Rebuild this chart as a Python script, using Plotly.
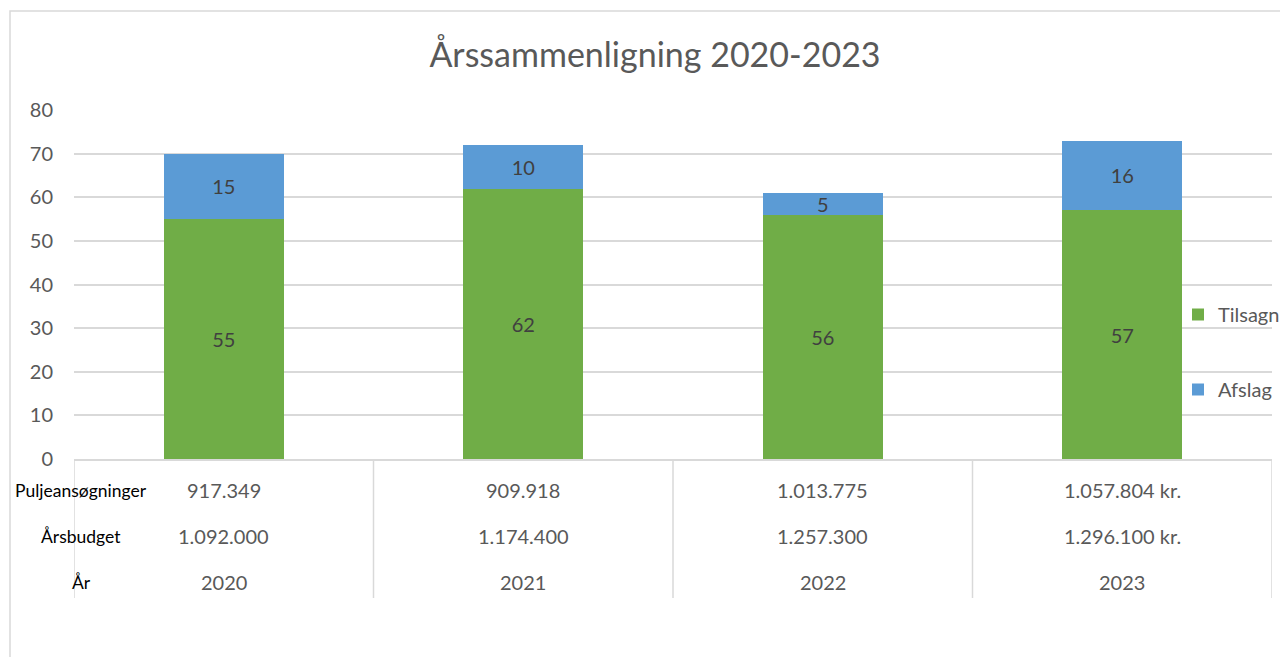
import plotly.graph_objects as go

# Data
years = ['2020', '2021', '2022', '2023']
tilsagn = [55, 62, 56, 57]
afslag = [15, 10, 5, 16]
puljeansoegninger = ['917.349', '909.918', '1.013.775', '1.057.804 kr.']
aarsbudget = ['1.092.000', '1.174.400', '1.257.300', '1.296.100 kr.']
row_labels = ['Puljeansøgninger', 'Årsbudget', 'År']

FONT = 'Lato'
GREY = '#595959'
LINE = '#d9d9d9'

# page is offset by the 8px body margin
OFF = 8
W, H = 1288 - 2 * OFF, 665 - 2 * OFF

# pixel geometry of the plot area in page coords
PLOT_TOP, PLOT_BOTTOM = 110, 459
PLOT_LEFT, PLOT_RIGHT = 74, 1272
PH = PLOT_BOTTOM - PLOT_TOP
PW = PLOT_RIGHT - PLOT_LEFT

def py(p):
    return (PLOT_BOTTOM - p) / PH

def px(p):
    return (p - PLOT_LEFT) / PW

fig = go.Figure()

fig.add_trace(
    go.Bar(
        x = years,
        y = tilsagn,
        name = 'Tilsagn',
        marker = dict(color = '#70ad47', line = dict(width = 0)),
        text = tilsagn,
        textposition = 'inside',
        insidetextanchor = 'middle',
        textangle = 0,
        constraintext = 'none',
        textfont = dict(family = FONT, size = 20, color = '#404040'),
        legendgroup = 'a'
    )
)

fig.add_trace(
    go.Bar(
        x = years,
        y = afslag,
        name = 'Afslag',
        marker = dict(color = '#5b9bd5', line = dict(width = 0)),
        text = afslag,
        textposition = 'inside',
        insidetextanchor = 'middle',
        textangle = 0,
        constraintext = 'none',
        textfont = dict(family = FONT, size = 20, color = '#404040'),
        legendgroup = 'b'
    )
)

shapes = []
# chart border (only left and top visible in the frame)
shapes.append(dict(
    type = 'rect', xref = 'paper', yref = 'paper',
    x0 = px(10), x1 = px(1320), y0 = py(700), y1 = py(11),
    line = dict(color = LINE, width = 1.5), layer = 'below'
))
# category table separators
for i in range(len(years) + 1):
    shapes.append(dict(
        type = 'line', xref = 'x', yref = 'paper',
        x0 = i - 0.5, x1 = i - 0.5, y0 = 0, y1 = py(598),
        line = dict(color = LINE, width = 1.5)
    ))

annotations = []
rows = [puljeansoegninger, aarsbudget, years]
row_y = [490, 536, 582]
for vals, yy in zip(rows, row_y):
    for i, v in enumerate(vals):
        annotations.append(dict(
            x = i, y = py(yy), xref = 'x', yref = 'paper',
            xanchor = 'center', yanchor = 'middle',
            text = v, showarrow = False,
            font = dict(family = FONT, size = 20, color = GREY)
        ))
for lab, yy in zip(row_labels, row_y):
    annotations.append(dict(
        x = px(81), y = py(yy), xref = 'paper', yref = 'paper',
        xanchor = 'center', yanchor = 'middle',
        text = lab, showarrow = False,
        font = dict(family = FONT, size = 17.5, color = '#000000')
    ))

fig.update_layout(
    width = W,
    height = H,
    barmode = 'stack',
    bargap = 0.6,
    uniformtext = dict(minsize = 20, mode = 'show'),
    plot_bgcolor = 'white',
    paper_bgcolor = 'white',
    margin = dict(
        l = PLOT_LEFT - OFF,
        r = W - (PLOT_RIGHT - OFF),
        t = PLOT_TOP - OFF,
        b = H - (PLOT_BOTTOM - OFF),
        autoexpand = False
    ),
    title = dict(
        text = 'Årssammenligning 2020-2023',
        x = (655 - PLOT_LEFT) / PW, xref = 'paper', xanchor = 'center',
        y = 1 - (55 - OFF) / H, yanchor = 'middle',
        font = dict(family = FONT, size = 34, color = GREY)
    ),
    xaxis = dict(
        type = 'category',
        range = [-0.5, 3.5],
        showticklabels = False,
        showgrid = False,
        showline = True,
        linecolor = LINE,
        linewidth = 1.5,
        fixedrange = True
    ),
    yaxis = dict(
        range = [0, 80],
        dtick = 10,
        showgrid = True,
        gridcolor = LINE,
        gridwidth = 1.5,
        zeroline = False,
        ticklabelstandoff = 20,
        tickfont = dict(family = FONT, size = 20, color = GREY)
    ),
    legend = dict(
        x = px(1178), y = py(295), xanchor = 'left', yanchor = 'top',
        traceorder = 'grouped',
        tracegroupgap = 46,
        bgcolor = 'rgba(0,0,0,0)',
        font = dict(family = FONT, size = 20, color = GREY)
    ),
    shapes = shapes,
    annotations = annotations
)

fig.write_html("out.html")
